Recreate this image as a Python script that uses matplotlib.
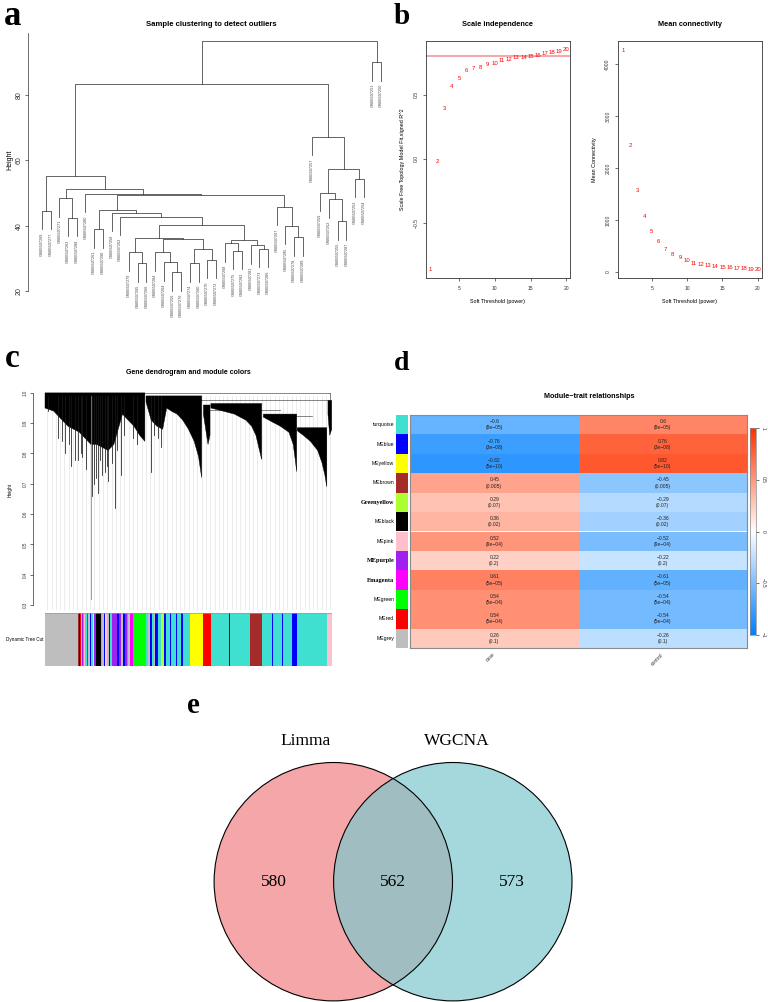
import numpy as np
import matplotlib
matplotlib.use('Agg')
import matplotlib.pyplot as plt
from matplotlib.patches import Rectangle, Circle, Polygon
from matplotlib.colors import LinearSegmentedColormap, Normalize

W, H = 768, 1002
SANS = ['Liberation Sans', 'DejaVu Sans']
SERIF = ['Liberation Serif', 'DejaVu Serif']
plt.rcParams['font.family'] = SANS
plt.rcParams['axes.linewidth'] = 0.5

# ---------------- a: sample clustering ----------------
sampleNames = ['GSM3507269', 'GSM3507277', 'GSM3507271', 'GSM3507263', 'GSM3507288',
               'GSM3507280', 'GSM3507261', 'GSM3507290', 'GSM3507258', 'GSM3507262',
               'GSM3507279', 'GSM3507265', 'GSM3507266', 'GSM3507284', 'GSM3507264',
               'GSM3507256', 'GSM3507276', 'GSM3507274', 'GSM3507260', 'GSM3507270',
               'GSM3507272', 'GSM3507268', 'GSM3507275', 'GSM3507282', 'GSM3507281',
               'GSM3507273', 'GSM3507286', 'GSM3507267', 'GSM3507285', 'GSM3507278',
               'GSM3507289', 'GSM3507257', 'GSM3507259', 'GSM3507252', 'GSM3507255',
               'GSM3507287', 'GSM3507253', 'GSM3507254', 'GSM3507251', 'GSM3507250']
# hclust style merge table: negative = leaf (1-based), positive = earlier merge row
mergeLeft = [-16, -12, -18, -15, -20, -11, -14, -23, 3, -26, -25, -22, 12, 7, 6,
             -30, -7, -29, 15, -35, -4, -10, -9, -1, 17, -28, -34, -3, 25, -6,
             -33, 28, -37, 24, 31, -32, 34, -39, 37]
mergeRight = [-17, -13, -19, 1, -21, 2, 4, -24, 5, -27, 10, 8, 11, 9, 14,
              -31, -8, 16, 13, -36, -5, 19, 22, -2, 23, 18, 20, 21, 26, 29,
              27, 30, -38, 32, 33, 35, 36, -40, 38]
mergeHeight = [25.7, 28.5, 28.5, 28.8, 29.5, 31.8, 31.8, 32.3, 32.8, 32.8, 34.0, 34.6,
               35.7, 35.9, 36.2, 36.4, 38.9, 40.0, 40.2, 41.3, 42.3, 42.8, 44.0, 44.5,
               44.8, 45.8, 48.1, 48.4, 49.4, 49.7, 50.1, 51.2, 54.3, 55.2, 57.4, 67.1,
               83.4, 90.0, 96.5]

# ---------------- b: soft threshold ----------------
powers = list(range(1, 21))
sftR2 = [-0.86, -0.02, 0.39, 0.565, 0.627, 0.69, 0.705, 0.716, 0.74, 0.748,
         0.766, 0.776, 0.79, 0.79, 0.797, 0.81, 0.825, 0.83, 0.835, 0.85]
meanK = [4260, 2430, 1560, 1070, 770, 575, 435, 333, 268, 218,
         166, 140, 113, 95, 82, 72, 63, 56, 50, 45]
r2Cut = 0.8

# ---------------- c: gene dendrogram (outline) ----------------
branchTop = [1.0, 0.99, 0.96, 0.965, 0.93, 0.885, 0.975]
branchX = [[0, 3, 6, 8, 10, 12, 14, 16, 18, 20, 22, 24, 25.5, 27, 29, 31, 33, 34.8],
           [35.2, 37, 39, 41, 42.4, 44, 46, 48, 50, 52, 53.5, 54.6],
           [55.2, 56.8, 57.5],
           [57.8, 62, 66, 70, 72, 73.5, 74.5, 75.5],
           [76.1, 79, 82, 85, 86.5, 87.2, 87.7],
           [87.9, 90, 92.5, 95, 96.5, 97.5, 98.2],
           [98.6, 99.2, 99.9]]
branchLow = [[0.95, 0.94, 0.91, 0.89, 0.88, 0.87, 0.85, 0.83, 0.83, 0.82, 0.81, 0.83,
              0.88, 0.93, 0.91, 0.89, 0.86, 0.84],
             [0.97, 0.91, 0.89, 0.88, 0.95, 0.94, 0.93, 0.91, 0.88, 0.84, 0.79, 0.72],
             [0.93, 0.83, 0.86],
             [0.95, 0.94, 0.93, 0.91, 0.89, 0.86, 0.82, 0.78],
             [0.92, 0.905, 0.89, 0.87, 0.83, 0.78, 0.74],
             [0.875, 0.86, 0.84, 0.81, 0.77, 0.73, 0.69],
             [0.93, 0.86, 0.88]]
spikeX = [15.9, 24.4, 17.0, 18.5, 9.0, 10.5, 13.0, 19.8, 22.0, 26.5, 36.8, 4.5, 1.0,
          6.0, 7.0, 8.2, 11.5, 12.5, 14.3, 16.5, 17.8, 19.0, 20.8, 21.6, 23.2, 25.2,
          27.5, 30.5, 32.0, 38.0, 39.5, 40.5]
spikeLow = [0.32, 0.62, 0.70, 0.67, 0.76, 0.78, 0.79, 0.73, 0.71, 0.73, 0.74, 0.85, 0.94,
            0.84, 0.80, 0.83, 0.78, 0.80, 0.75, 0.66, 0.72, 0.78, 0.74, 0.76, 0.77, 0.81,
            0.86, 0.85, 0.83, 0.86, 0.85, 0.82]
topMergeX0 = [0.0, 40.0, 56.0, 76.0]
topMergeX1 = [99.3, 99.3, 82.0, 93.0]
topMergeH = [1.0, 0.975, 0.945, 0.925]

cutStart = [0, 11.5, 11.9, 12.3, 12.6, 12.9, 13.3, 13.7, 14.1, 14.6, 15.0, 15.8, 16.2, 16.6,
            17.0, 17.8, 19.5, 20.0, 20.4, 20.8, 21.1, 21.5, 22.2, 22.6, 23.3, 25.1, 25.7,
            26.5, 27.2, 27.8, 28.5, 29.0, 29.6, 30.7, 35.2, 36.0, 36.6, 37.2, 38.0, 38.5,
            39.2, 40.4, 41.5, 42.0, 43.5, 44.0, 45.5, 46.0, 47.5, 48.0, 50.5, 55.1, 57.8,
            64.0, 64.3, 71.4, 75.6, 79.0, 79.3, 82.5, 82.8, 86.1, 87.8, 98.3]
cutEnd = cutStart[1:] + [99.9]
cutColor = ['grey', 'brown', 'black', 'red', 'grey', 'purple', 'green', 'pink', 'turquoise',
            'purple', 'grey', 'blue', 'turquoise', 'yellow', 'purple', 'black', 'turquoise',
            'grey', 'blue', 'yellow', 'pink', 'grey', 'blue', 'turquoise', 'purple', 'blue',
            'purple', 'grey', 'blue', 'purple', 'green', 'grey', 'magenta', 'green',
            'turquoise', 'grey', 'blue', 'turquoise', 'grey', 'blue', 'turquoise',
            'greenyellow', 'blue', 'turquoise', 'blue', 'turquoise', 'blue', 'turquoise',
            'blue', 'turquoise', 'yellow', 'red', 'turquoise', 'blue', 'turquoise', 'brown',
            'turquoise', 'blue', 'turquoise', 'blue', 'turquoise', 'blue', 'turquoise', 'pink']

# ---------------- d: module-trait ----------------
moduleNames = ['turquoise', 'MEblue', 'MEyellow', 'MEbrown', 'Greenyellow', 'MEblack',
               'MEpink', 'MEpurple', 'Emagenta', 'MEgreen', 'MEred', 'MEgrey']
moduleColors = ['turquoise', 'blue', 'yellow', 'brown', 'greenyellow', 'black',
                'pink', 'purple', 'magenta', 'green', 'red', 'grey']
traitNames = ['case', 'control']
caseCor = [-0.6, -0.76, -0.82, 0.45, 0.29, 0.36, 0.52, 0.22, 0.61, 0.54, 0.54, 0.26]
controlCor = [0.6, 0.76, 0.82, -0.45, -0.29, -0.36, -0.52, -0.22, -0.61, -0.54, -0.54, -0.26]
corP = ['8e-05', '3e-08', '5e-10', '0.005', '0.07', '0.02', '9e-04', '0.2', '5e-05',
        '5e-04', '5e-04', '0.1']
serifRows = ['Greenyellow', 'MEpurple', 'Emagenta']

# ---------------- e: venn ----------------
vennNames = ['Limma', 'WGCNA']
vennCounts = [580, 562, 573]

rCols = {'turquoise': '#40E0D0', 'blue': '#0000FF', 'yellow': '#FFFF00', 'brown': '#A52A2A',
         'greenyellow': '#ADFF2F', 'black': '#000000', 'pink': '#FFC0CB', 'purple': '#A020F0',
         'magenta': '#FF00FF', 'green': '#00FF00', 'red': '#FF0000', 'grey': '#BEBEBE'}

fig = plt.figure(figsize=(W / 100, H / 100), dpi=100)


def pxAxes(x0, y0, x1, y1):
    return fig.add_axes([x0 / W, 1 - y1 / H, (x1 - x0) / W, (y1 - y0) / H])


def figText(x, y, s, **kw):
    fig.text(x / W, 1 - y / H, s, **kw)


def rAxis(ax):
    for side in ['top', 'right', 'bottom', 'left']:
        ax.spines[side].set_visible(False)
    ax.tick_params(direction='out', length=2.5, width=0.5, colors='#333333')


def minus(s):
    return s.replace('-', '\u2212')


# panel letters
for letter, x, y, size in [('a', 4, 25, 25), ('b', 394, 24, 21), ('c', 5, 367, 24),
                           ('d', 394, 370, 20), ('e', 187, 713, 21)]:
    figText(x, y, letter, fontsize=size, fontweight='bold', family=SERIF,
            ha='left', va='baseline')

# ---- a ----
axA = pxAxes(28, 30, 395, 340)
axA.set_xlim(-0.61, 41.6)
axA.set_ylim(5.0, 99.9)
rAxis(axA)
axA.spines['left'].set_visible(True)
axA.spines['left'].set_bounds(20, 99)
axA.spines['left'].set_color('#333333')
axA.set_xticks([])
axA.set_yticks([20, 40, 60, 80])
axA.tick_params(axis='y', labelsize=5, pad=1.5)
for lab in axA.get_yticklabels():
    lab.set_rotation(90)
    lab.set_va('center')
hang = 5.6
nodeX, nodeH = {}, {}
for i, (l, r, h) in enumerate(zip(mergeLeft, mergeRight, mergeHeight), start=1):
    ends = []
    for c in (l, r):
        if c < 0:
            ends.append((-c, h - hang))
            axA.text(-c, h - hang - 1.0, sampleNames[-c - 1], rotation=90, ha='center',
                     va='top', fontsize=2.7, color='#444444')
        else:
            ends.append((nodeX[c], nodeH[c]))
    (xl, yl), (xr, yr) = ends
    axA.plot([xl, xl, xr, xr], [yl, h, h, yr], color='#3a3a3a', lw=0.55)
    nodeX[i] = (xl + xr) / 2
    nodeH[i] = h
figText(211, 25, 'Sample clustering to detect outliers', fontsize=5.6, fontweight='bold',
        ha='center', va='center')
figText(10, 160, 'Height', fontsize=5, rotation=90, ha='center', va='center')

# ---- b ----
axB1 = pxAxes(426, 41, 570, 278)
axB1.set_xlim(0.38, 20.5)
axB1.set_ylim(-0.93, 0.92)
axB1.axhline(r2Cut, color='#F29090', lw=1.1, zorder=1)
for p, v in zip(powers, sftR2):
    axB1.text(p, v, str(p), color='red', fontsize=4.3, ha='center', va='center')
axB1.set_yticks([-0.5, 0.0, 0.5])
axB1.set_yticklabels([minus('-0.5'), '0.0', '0.5'])

axB2 = pxAxes(618, 41, 762, 278)
axB2.set_xlim(0.24, 20.6)
axB2.set_ylim(-122, 4450)
for p, v in zip(powers, meanK):
    axB2.text(p, v, str(p), color='red', fontsize=4.3, ha='center', va='center')
axB2.set_yticks([0, 1000, 2000, 3000, 4000])

for ax, ttl, ylab, cx in [(axB1, 'Scale independence', 'Scale Free Topology Model Fit,signed R^2', 498),
                          (axB2, 'Mean connectivity', 'Mean Connectivity', 690)]:
    for side in ax.spines.values():
        side.set_color('#333333')
        side.set_linewidth(0.6)
    ax.set_xticks([5, 10, 15, 20])
    ax.tick_params(direction='out', length=2.5, width=0.5, labelsize=3.6, pad=3,
                   colors='#333333')
    for lab in ax.get_yticklabels():
        lab.set_rotation(90)
        lab.set_va('center')
    ax.set_xlabel('Soft Threshold (power)', fontsize=3.9, labelpad=6)
    ax.set_ylabel(ylab, fontsize=3.9, labelpad=6)
    figText(cx, 25, ttl, fontsize=5.3, fontweight='bold', ha='center', va='center')

# ---- c ----
axC = pxAxes(33, 385, 335, 610)
axC.set_xlim(-4.18, 101.05)
axC.set_ylim(0.2835, 1.026)
rAxis(axC)
axC.spines['left'].set_visible(True)
axC.spines['left'].set_bounds(0.3, 1.0)
axC.spines['left'].set_color('#333333')
axC.set_xticks([])
axC.set_yticks([0.3, 0.4, 0.5, 0.6, 0.7, 0.8, 0.9, 1.0])
axC.tick_params(axis='y', labelsize=3.3, pad=1.5)
for lab in axC.get_yticklabels():
    lab.set_rotation(90)
    lab.set_va('center')
for gx in np.linspace(0.8, 99.4, 67):
    axC.plot([gx, gx], [0.2835, 0.99], color='#dcdcdc', lw=0.4, zorder=1)
for top, xs, lows in zip(branchTop, branchX, branchLow):
    pts = [(xs[0], top), (xs[-1], top)] + list(zip(xs[::-1], lows[::-1]))
    axC.add_patch(Polygon(pts, closed=True, facecolor='black', edgecolor='black',
                          lw=0.3, zorder=3))
for sx, sl in zip(spikeX, spikeLow):
    col = '#888888' if sl < 0.4 else '#1a1a1a'
    axC.plot([sx, sx], [sl, 0.99], color=col, lw=0.55, zorder=3)
for x0, x1, h in zip(topMergeX0, topMergeX1, topMergeH):
    axC.plot([x0, x1], [h, h], color='#555555', lw=0.5, zorder=2)
axC.plot([99.3, 99.3], [1.0, 0.93], color='#555555', lw=0.5, zorder=2)
figText(188, 373, 'Gene dendrogram and module colors', fontsize=5, fontweight='bold',
        ha='center', va='center')
figText(10, 490, 'Height', fontsize=3.4, rotation=90, ha='center', va='center')

axCut = pxAxes(45, 613, 332, 666)
axCut.set_xlim(0, 100)
axCut.set_ylim(0, 1)
axCut.axis('off')
for x0, x1, c in zip(cutStart, cutEnd, cutColor):
    axCut.add_patch(Rectangle((x0, 0), x1 - x0, 1, facecolor=rCols[c], edgecolor='none'))
axCut.plot([0, 100], [1, 1], color='#999999', lw=0.5)
figText(43, 640, 'Dynamic Tree Cut', fontsize=3.3, ha='right', va='center')

# ---- d ----
bwr = LinearSegmentedColormap.from_list('bwr', ['#0080FF', '#FFFFFF', '#FF3300'])
norm = Normalize(-1, 1)
nRow = len(moduleNames)
axD = pxAxes(410, 415, 747, 648)
axD.set_xlim(0, 2)
axD.set_ylim(nRow, 0)
axD.set_xticks([])
axD.set_yticks([])
for side in axD.spines.values():
    side.set_color('#8a8a8a')
    side.set_linewidth(0.8)
for j, cors in enumerate([caseCor, controlCor]):
    for i, (v, p) in enumerate(zip(cors, corP)):
        axD.add_patch(Rectangle((j, i), 1, 1, facecolor=bwr(norm(v)), edgecolor='none'))
        axD.text(j + 0.5, i + 0.5, minus('%g\n(%s)' % (v, p)), ha='center', va='center',
                 fontsize=3.6, linespacing=1.3, color='#222222')
for j, t in enumerate(traitNames):
    axD.text(j + 0.5, nRow + 0.3, t, rotation=45, rotation_mode='anchor', ha='right',
             va='center', fontsize=3.6, color='#333333')

axSide = pxAxes(396, 415, 408, 648)
axSide.set_xlim(0, 1)
axSide.set_ylim(nRow, 0)
axSide.axis('off')
for i, (name, c) in enumerate(zip(moduleNames, moduleColors)):
    axSide.add_patch(Rectangle((0, i), 1, 1, facecolor=rCols[c], edgecolor='none'))
    if name in serifRows:
        axSide.text(-0.15, i + 0.5, name, ha='right', va='center', fontsize=4.5,
                    fontweight='bold', family=SERIF)
    else:
        axSide.text(-0.15, i + 0.5, name, ha='right', va='center', fontsize=3.7)
figText(589, 397, 'Module\u2212trait relationships', fontsize=5.2, fontweight='bold',
        ha='center', va='center')

axCb = pxAxes(750, 428, 756, 635)
axCb.imshow(np.linspace(1, -1, 200).reshape(-1, 1), cmap=bwr, norm=norm, aspect='auto',
            extent=[0, 1, -1, 1])
axCb.set_xticks([])
axCb.yaxis.tick_right()
axCb.set_yticks([-1, -0.5, 0, 0.5, 1])
axCb.set_yticklabels([minus('-1'), minus('-0.5'), '0', '0.5', '1'])
axCb.tick_params(axis='y', length=2, width=0.5, labelsize=3.5, pad=1.5, colors='#333333')
for lab in axCb.get_yticklabels():
    lab.set_rotation(270)
    lab.set_va('center')
for side in axCb.spines.values():
    side.set_color('#8a8a8a')
    side.set_linewidth(0.5)

# ---- e ----
axE = pxAxes(150, 700, 650, 1002)
axE.set_xlim(150, 650)
axE.set_ylim(1002, 700)
axE.axis('off')
cy, rad = 881.7, 119.2
leftC = Circle((333.3, cy), rad, facecolor='#F4A6A8', edgecolor='none')
axE.add_patch(leftC)
axE.add_patch(Circle((452.8, cy), rad, facecolor='#A4D8DC', edgecolor='none'))
lens = Circle((452.8, cy), rad, facecolor='#A0BEC2', edgecolor='none')
axE.add_patch(lens)
lens.set_clip_path(leftC)
for cx in (333.3, 452.8):
    axE.add_patch(Circle((cx, cy), rad, fill=False, edgecolor='black', lw=0.8))
for name, x in zip(vennNames, [306, 457]):
    axE.text(x, 741, name, fontsize=12.5, family=SERIF, ha='center', va='center')
for n, x in zip(vennCounts, [274, 393, 512]):
    axE.text(x, cy, str(n), fontsize=12.5, family=SERIF, ha='center', va='center')

fig.savefig('out.png', dpi=100)
